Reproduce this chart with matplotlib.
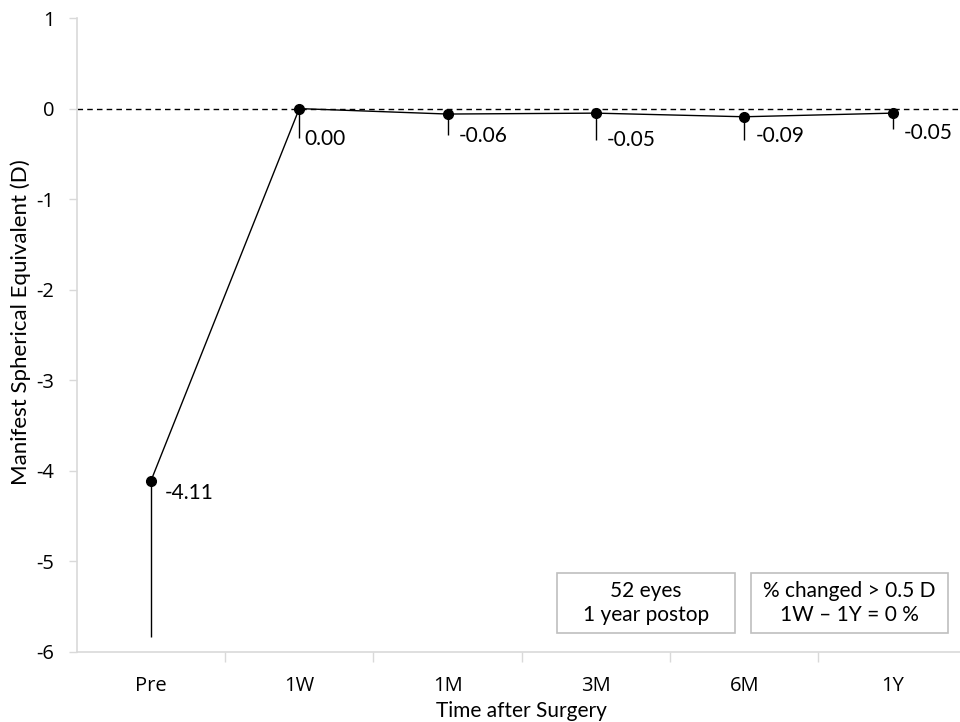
import matplotlib
matplotlib.use('Agg')
import matplotlib.pyplot as plt
from matplotlib.patches import Rectangle

# data
times = ['Pre', '1W', '1M', '3M', '6M', '1Y']
mse_mean = [-4.11, 0.00, -0.06, -0.05, -0.09, -0.05]
mse_lower_err = [1.73, 0.33, 0.23, 0.30, 0.26, 0.17]   # one-sided SD (downwards)
value_labels = ['-4.11', '0.00', '-0.06', '-0.05', '-0.09', '-0.05']
box_left = '52 eyes\n1 year postop'
box_right = '% changed > 0.5 D\n1W \u2013 1Y = 0 %'

# label offsets in points (dx, dy) relative to each point
label_offsets = [(10, -9), (4, -22), (8, -16), (8, -19), (8, -14), (8, -14)]

LBL_FONT = ['Lato', 'DejaVu Sans']
TICK_FONT = ['Open Sans', 'DejaVu Sans']
GRAY = '#d9d9d9'
W, H = 960, 722

fig = plt.figure(figsize=(9.6, 7.22), dpi=100)
ax = fig.add_axes([0.080, 0.097, 0.927, 0.878])

x = list(range(len(times)))
ax.axhline(0, color='black', ls=(0, (4, 3)), lw=1.0, zorder=1)
ax.errorbar(x, mse_mean, yerr=[mse_lower_err, [0] * len(x)], fmt='-o',
            color='black', lw=1.0, ms=7, elinewidth=1.0, capsize=0, zorder=3)

for xi, yi, lab, (dx, dy) in zip(x, mse_mean, value_labels, label_offsets):
    ax.annotate(lab, (xi, yi), xytext=(dx, dy), textcoords='offset points',
                ha='left', va='center', fontsize=15, family=LBL_FONT)

ax.set_xlim(-0.5, len(times) - 0.5)
ax.set_ylim(-6, 1)
ax.set_xticks(x)
ax.set_xticklabels(times, family=TICK_FONT, fontsize=14.5)
ax.set_xticks([i + 0.5 for i in x[:-1]], minor=True)
ax.tick_params(axis='x', which='major', length=0, pad=17)
ax.tick_params(axis='x', which='minor', length=7, color=GRAY, width=1)
ax.set_yticks(range(-6, 2))
ax.set_yticklabels([str(v) for v in range(-6, 2)], family=TICK_FONT, fontsize=14.5)
ax.tick_params(axis='y', length=6, color=GRAY, width=1, pad=10)

for side in ['top', 'right']:
    ax.spines[side].set_visible(False)
for side in ['left', 'bottom']:
    ax.spines[side].set_color(GRAY)
    ax.spines[side].set_linewidth(1.2)

ax.set_xlabel('Time after Surgery', family=LBL_FONT, fontsize=15, labelpad=4)
ax.set_ylabel('Manifest Spherical Equivalent (D)', family=LBL_FONT, fontsize=16)
ax.yaxis.set_label_coords(-0.052, 0.52)

# the two note boxes (pixel extents from the reference)
for (x0, x1), txt in zip([(557, 735), (751, 948)], [box_left, box_right]):
    fig.patches.append(Rectangle((x0 / W, 1 - 633 / H), (x1 - x0) / W, 60 / H,
                                 transform=fig.transFigure, facecolor='white',
                                 edgecolor='#bfbfbf', lw=1.2))
    fig.text((x0 + x1) / 2 / W, 1 - 603 / H, txt, ha='center', va='center',
             fontsize=15, family=LBL_FONT, linespacing=1.25)

fig.savefig('out.png', dpi=100)
